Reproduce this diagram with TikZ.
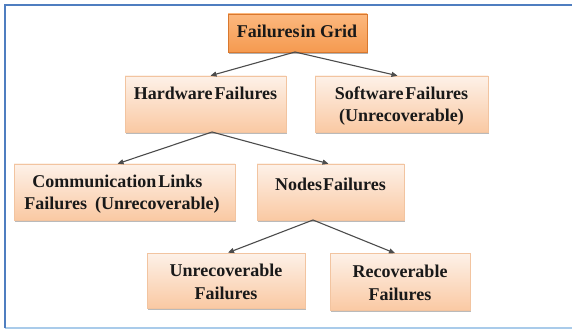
\documentclass[tikz,border=0pt]{standalone}
\usepackage{fontspec}
\setmainfont{Liberation Serif}
\usetikzlibrary{arrows.meta,shadows}
\definecolor{peachtop}{HTML}{FDF1E8}
\definecolor{peachbot}{HTML}{FAC9A3}
\definecolor{peachline}{HTML}{F2C4A0}
\definecolor{roottop}{HTML}{FCB87E}
\definecolor{rootbot}{HTML}{F59A50}
\definecolor{rootline}{HTML}{D9782E}
\definecolor{framedark}{HTML}{4F7EC0}
\definecolor{framelight}{HTML}{A9CBEA}
\tikzset{
  box/.style={draw=peachline, line width=0.6pt, top color=peachtop, bottom color=peachbot,
    drop shadow={shadow xshift=1.2pt, shadow yshift=-1.8pt, fill=black!45, opacity=0.6},
    align=center, inner sep=0pt},
  rootbox/.style={draw=rootline, line width=0.6pt, top color=roottop, bottom color=rootbot,
    drop shadow={shadow xshift=1.2pt, shadow yshift=-1.8pt, fill=black!50, opacity=0.6},
    inner sep=0pt},
  link/.style={draw=black!70, line width=1.1pt, -{Triangle[length=6pt,width=5pt]}},
  lbl/.style={font=\fontsize{18}{22.5}\bfseries\selectfont, align=center, inner sep=0pt, text=black!90}
}
\begin{document}
\begin{tikzpicture}[x=1pt,y=-1pt]
\useasboundingbox (0,0) rectangle (572,331);
\fill[white] (0,0) rectangle (572,331);
% frame
\draw[framelight, line width=1.2pt] (5,328) -- (572,328);
\draw[framedark, line width=1.6pt] (5,328) -- (5,5) -- (572,5);
% boxes
\node[rootbox, minimum width=139pt, minimum height=38pt] (root) at (297.5,33) {};
\node[lbl] (roott) at (297,31) {Failures\hspace{1pt}in Grid};
\node[box, minimum width=161pt, minimum height=56pt] (hw) at (205.5,104) {};
\node[lbl] (hwt) at (205.5,93) {Hardware\hspace{2pt}Failures};
\node[box, minimum width=173pt, minimum height=56pt] (sw) at (401.5,104) {};
\node[lbl] (swt) at (401.5,106) {Software\hspace{2pt}Failures\\(Unrecoverable)};
\node[box, minimum width=221pt, minimum height=56pt] (cl) at (124.5,192) {};
\node[lbl, align=left] (clt) at (122,194) {\hspace{8pt}Communication\hspace{2pt}Links\\Failures\hspace{8pt}(Unrecoverable)};
\node[box, minimum width=147pt, minimum height=56pt] (nd) at (330.5,192) {};
\node[lbl] (ndt) at (330.5,184) {Nodes\hspace{1pt}Failures};
\node[box, minimum width=158pt, minimum height=55pt] (un) at (226,280.5) {};
\node[lbl] (unt) at (226,282) {Unrecoverable\\Failures};
\node[box, minimum width=140pt, minimum height=57pt] (rc) at (400,282) {};
\node[lbl] (rct) at (400,283) {Recoverable\\Failures};
% connectors
\coordinate (rb) at (295,52);
\coordinate (hb) at (212,132);
\coordinate (nb) at (313,220);
\draw[link] (rb) -- ([xshift=5pt]hw.north);
\draw[link] (rb) -- ([xshift=-4pt]sw.north);
\draw[link] (hb) -- ([xshift=-7pt]cl.north);
\draw[link] (hb) -- ([xshift=-2pt]nd.north);
\draw[link] (nb) -- ([xshift=2pt]un.north);
\draw[link] (nb) -- ([xshift=-5pt]rc.north);
\end{tikzpicture}
\end{document}
